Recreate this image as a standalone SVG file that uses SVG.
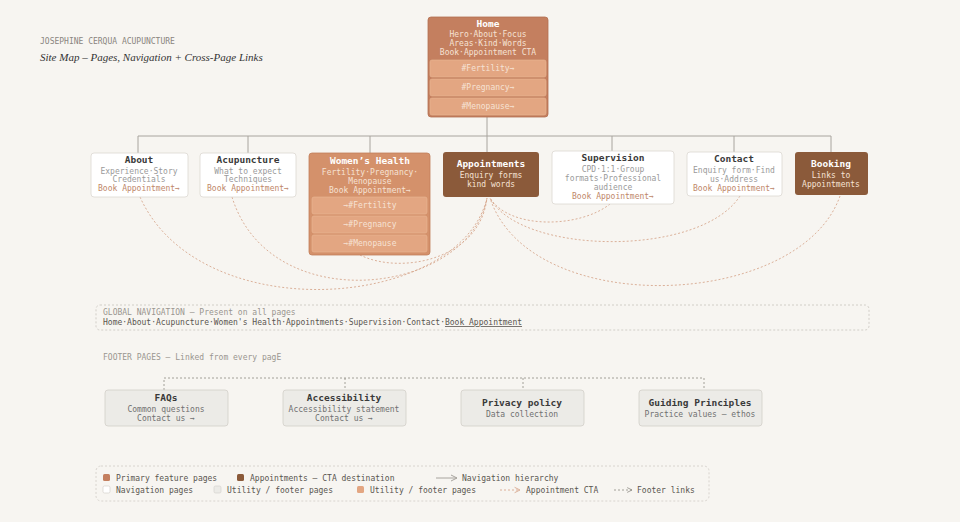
<svg xmlns="http://www.w3.org/2000/svg" width="960" height="522" viewBox="0 0 960 522">
<defs>
<style>
text{font-family:"DejaVu Sans Mono","Liberation Mono",monospace;text-anchor:middle}
.t{font-size:9.5px;font-weight:bold;fill:#3a3a3a}
.tw{font-size:9.5px;font-weight:bold;fill:#fff}
.s{font-size:8px;fill:#9a9a9a}
.sw{font-size:8px;fill:#f6e2d4}
.cta{font-size:8px;fill:#c0876a}
.nav{fill:#fff;stroke:#dcd8d2;stroke-width:0.8}
.util{fill:#ecebe7;stroke:#d2cfc9;stroke-width:0.8}
.sub{fill:#e3a682;stroke:#eab896;stroke-width:0.6}
.tree{stroke:#a8a49e;stroke-width:1;fill:none}
.cur{stroke:#d7a88e;stroke-width:0.9;stroke-dasharray:2 2;fill:none}
.foot{stroke:#8e8a84;stroke-width:0.8;stroke-dasharray:2 2;fill:none}
.l{text-anchor:start;font-size:8px;fill:#5a5550}
</style>
<marker id="ar" markerWidth="8" markerHeight="8" refX="7" refY="4" orient="auto"><path d="M1,1 L7,4 L1,7" fill="none" stroke="#a8a49e" stroke-width="1"/></marker>
<marker id="ar2" markerWidth="8" markerHeight="8" refX="7" refY="4" orient="auto"><path d="M1,1 L7,4 L1,7" fill="none" stroke="#d7a88e" stroke-width="1"/></marker>
<marker id="ar3" markerWidth="8" markerHeight="8" refX="7" refY="4" orient="auto"><path d="M1,1 L7,4 L1,7" fill="none" stroke="#8e8a84" stroke-width="1"/></marker>
</defs>
<rect width="960" height="522" fill="#f7f5f1"/>
<text x="40" y="44" style="text-anchor:start;font-size:8px;fill:#8a8580">JOSEPHINE CERQUA ACUPUNCTURE</text>
<text x="40" y="61" style="text-anchor:start;font-size:11px;font-style:italic;fill:#333;font-family:'Liberation Serif',serif">Site Map – Pages, Navigation + Cross-Page Links</text>

<g id="connectors">
<path class="tree" d="M487,117 V136 M138,136 H831 M138,136 V153 M248,136 V153 M370,136 V153 M487,136 V152 M612,136 V151 M734,136 V152 M831,136 V152"/>
<path class="cur" d="M140,197 C200,330 460,310 487,198"/>
<path class="cur" d="M232,197 C270,320 470,295 487,198"/>
<path class="cur" d="M360,255 C400,275 480,260 487,198"/>
<path class="cur" d="M610,204 C580,228 510,230 490,198"/>
<path class="cur" d="M740,196 C700,258 520,255 490,198"/>
<path class="cur" d="M840,196 C800,310 530,320 490,198"/>
<path class="foot" d="M164,390 V378 H704 V390 M345,378 V390 M523,378 V390"/>
</g>

<g id="home">
<rect x="428" y="17" width="120" height="100" rx="3" fill="#c47f5f" stroke="#b36f50" stroke-width="0.8"/>
<text x="488" y="27" class="tw">Home</text>
<text x="488" y="37" class="sw">Hero·About·Focus</text>
<text x="488" y="46" class="sw">Areas·Kind·Words</text>
<text x="488" y="55" class="sw">Book·Appointment CTA</text>
<rect x="430" y="60" width="116" height="17" rx="2" class="sub"/><text x="488" y="71" class="sw">#Fertility→</text>
<rect x="430" y="79" width="116" height="17" rx="2" class="sub"/><text x="488" y="90" class="sw">#Pregnancy→</text>
<rect x="430" y="98" width="116" height="17" rx="2" class="sub"/><text x="488" y="109" class="sw">#Menopause→</text>
</g>
<g id="about">
<rect x="91" y="153" width="97" height="44" rx="3" class="nav"/>
<text x="139" y="163" class="t">About</text>
<text x="139" y="174" class="s">Experience·Story</text>
<text x="139" y="182" class="s">Credentials</text>
<text x="139" y="191" class="cta">Book Appointment→</text>
</g>
<g id="acupuncture">
<rect x="200" y="153" width="96" height="44" rx="3" class="nav"/>
<text x="248" y="163" class="t">Acupuncture</text>
<text x="248" y="174" class="s">What to expect</text>
<text x="248" y="182" class="s">Techniques</text>
<text x="248" y="191" class="cta">Book Appointment→</text>
</g>
<g id="womens-health">
<rect x="309" y="153" width="121" height="102" rx="3" fill="#d4916b" stroke="#c27f5b" stroke-width="0.8"/>
<text x="370" y="164" class="tw">Women’s Health</text>
<text x="370" y="175" class="sw">Fertility·Pregnancy·</text>
<text x="370" y="184" class="sw">Menopause</text>
<text x="370" y="193" class="sw">Book Appointment→</text>
<rect x="312" y="197" width="115" height="17" rx="2" class="sub"/><text x="370" y="208" class="sw">→#Fertility</text>
<rect x="312" y="216" width="115" height="17" rx="2" class="sub"/><text x="370" y="227" class="sw">→#Pregnancy</text>
<rect x="312" y="235" width="115" height="17" rx="2" class="sub"/><text x="370" y="246" class="sw">→#Menopause</text>
</g>
<g id="appointments">
<rect x="443" y="152" width="96" height="45" rx="3" fill="#8b5a3a"/>
<text x="491" y="167" class="tw">Appointments</text>
<text x="491" y="178" class="sw">Enquiry forms</text>
<text x="491" y="187" class="sw">kind words</text>
</g>
<g id="supervision">
<rect x="552" y="151" width="122" height="53" rx="3" class="nav"/>
<text x="613" y="161" class="t">Supervision</text>
<text x="613" y="172" class="s">CPD·1:1·Group</text>
<text x="613" y="181" class="s">formats·Professional</text>
<text x="613" y="190" class="s">audience</text>
<text x="613" y="199" class="cta">Book Appointment→</text>
</g>
<g id="contact">
<rect x="687" y="152" width="95" height="44" rx="3" class="nav"/>
<text x="734" y="162" class="t">Contact</text>
<text x="734" y="173" class="s">Enquiry form·Find</text>
<text x="734" y="182" class="s">us·Address</text>
<text x="734" y="191" class="cta">Book Appointment→</text>
</g>
<g id="booking">
<rect x="795" y="152" width="73" height="43" rx="3" fill="#8b5a3a"/>
<text x="831" y="167" class="tw">Booking</text>
<text x="831" y="178" class="sw">Links to</text>
<text x="831" y="187" class="sw">Appointments</text>
</g>

<g id="global-nav">
<rect x="96" y="305" width="773" height="25" rx="4" fill="none" stroke="#c8c4be" stroke-width="0.8" stroke-dasharray="2 2"/>
<text x="103" y="315" class="l" style="fill:#9a9590">GLOBAL NAVIGATION — Present on all pages</text>
<text x="103" y="325" class="l">Home·About·Acupuncture·Women's Health·Appointments·Supervision·Contact·<tspan text-decoration="underline">Book Appointment</tspan></text>
</g>
<text x="103" y="360" class="l" style="fill:#9a9590">FOOTER PAGES — Linked from every pagE</text>

<g id="faqs">
<rect x="105" y="390" width="123" height="36" rx="3" class="util"/>
<text x="166" y="401" class="t">FAQs</text>
<text x="166" y="412" class="s" style="fill:#707070">Common questions</text>
<text x="166" y="421" class="s" style="fill:#707070">Contact us →</text>
</g>
<g id="accessibility">
<rect x="283" y="390" width="123" height="36" rx="3" class="util"/>
<text x="344" y="401" class="t">Accessibility</text>
<text x="344" y="412" class="s" style="fill:#707070">Accessibility statement</text>
<text x="344" y="421" class="s" style="fill:#707070">Contact us →</text>
</g>
<g id="privacy">
<rect x="461" y="390" width="123" height="36" rx="3" class="util"/>
<text x="522" y="406" class="t">Privacy policy</text>
<text x="522" y="417" class="s" style="fill:#707070">Data collection</text>
</g>
<g id="guiding">
<rect x="639" y="390" width="123" height="36" rx="3" class="util"/>
<text x="700" y="406" class="t">Guiding Principles</text>
<text x="700" y="417" class="s" style="fill:#707070">Practice values — ethos</text>
</g>

<g id="legend">
<rect x="96" y="466" width="613" height="35" rx="5" fill="none" stroke="#d0ccc6" stroke-width="0.8" stroke-dasharray="2 2"/>
<rect x="103" y="474" width="7" height="7" rx="1.5" fill="#c47f5f"/><text x="116" y="481" class="l">Primary feature pages</text>
<rect x="237" y="474" width="7" height="7" rx="1.5" fill="#8b5a3a"/><text x="250" y="481" class="l">Appointments — CTA destination</text>
<line x1="436" y1="478" x2="457" y2="478" stroke="#a8a49e" marker-end="url(#ar)"/><text x="462" y="481" class="l">Navigation hierarchy</text>
<rect x="103" y="486" width="7" height="7" rx="1.5" fill="#fff" stroke="#cfcac4" stroke-width="0.6"/><text x="116" y="493" class="l">Navigation pages</text>
<rect x="214" y="486" width="7" height="7" rx="1.5" fill="#ecebe7" stroke="#d2cfc9" stroke-width="0.6"/><text x="227" y="493" class="l">Utility / footer pages</text>
<rect x="357" y="486" width="7" height="7" rx="1.5" fill="#e3a682"/><text x="370" y="493" class="l">Utility / footer pages</text>
<line x1="500" y1="490" x2="520" y2="490" class="cur" marker-end="url(#ar2)"/><text x="526" y="493" class="l">Appointment CTA</text>
<line x1="614" y1="490" x2="632" y2="490" class="foot" marker-end="url(#ar3)"/><text x="637" y="493" class="l">Footer links</text>
</g>
</svg>
